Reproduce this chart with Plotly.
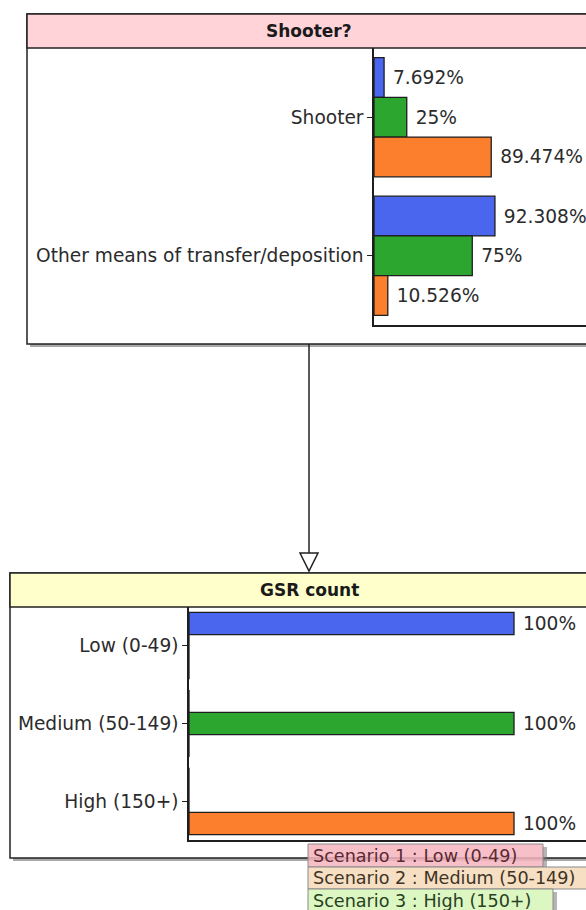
import plotly.graph_objects as go

W, H = 586, 910

# ---- data -------------------------------------------------------------
scenarios = ["Scenario 1 : Low (0-49)", "Scenario 2 : Medium (50-149)", "Scenario 3 : High (150+)"]
series_colors = ["#4a66ee", "#2ca62e", "#fb7f2c"]

shooter_title = "Shooter?"
shooter_states = ["Shooter", "Other means of transfer/deposition"]
shooter_s1 = [7.692, 92.308]
shooter_s2 = [25, 75]
shooter_s3 = [89.474, 10.526]

gsr_title = "GSR count"
gsr_states = ["Low (0-49)", "Medium (50-149)", "High (150+)"]
gsr_s1 = [100, 0, 0]
gsr_s2 = [0, 100, 0]
gsr_s3 = [0, 0, 100]

FONT = "DejaVu Sans"
TXT = "#2b2b2b"
FS = 18.6


def px(x):
    return x / W


def py(y):
    return 1 - y / H


def label(v):
    # non-breaking space keeps a small gap between bar end and value
    return f"\u00a0{v:g}%" if v > 0 else ""


fig = go.Figure()

for name, vals, col in zip(scenarios, [shooter_s1, shooter_s2, shooter_s3], series_colors):
    fig.add_trace(go.Bar(
        y=shooter_states, x=vals, orientation="h", name=name,
        marker=dict(color=col, line=dict(color="#1e1e1e", width=1.3)),
        text=[label(v) for v in vals], textposition="outside", constraintext="none",
        textfont=dict(family=FONT, size=FS, color=TXT), cliponaxis=False,
        xaxis="x", yaxis="y", hoverinfo="skip",
    ))

for name, vals, col in zip(scenarios, [gsr_s1, gsr_s2, gsr_s3], series_colors):
    fig.add_trace(go.Bar(
        y=gsr_states, x=vals, orientation="h", name=name,
        marker=dict(color=col, line=dict(color="#1e1e1e", width=1.3)),
        text=[label(v) for v in vals], textposition="outside", constraintext="none",
        textfont=dict(family=FONT, size=FS, color=TXT), cliponaxis=False,
        xaxis="x2", yaxis="y2", hoverinfo="skip",
    ))

shapes = []
annotations = []


def node_box(x0, y0, y1, title_bottom, fill):
    # drop shadow, white body, coloured title strip
    shapes.append(dict(type="rect", xref="paper", yref="paper", layer="below",
                       x0=px(x0 + 3), x1=px(W + 40), y0=py(y1 + 3), y1=py(y0 + 3),
                       fillcolor="#a8a8a8", line=dict(width=0)))
    shapes.append(dict(type="rect", xref="paper", yref="paper", layer="below",
                       x0=px(x0), x1=px(W + 30), y0=py(y1), y1=py(y0),
                       fillcolor="white", line=dict(color="#222", width=1.5)))
    shapes.append(dict(type="rect", xref="paper", yref="paper", layer="below",
                       x0=px(x0), x1=px(W + 30), y0=py(title_bottom), y1=py(y0),
                       fillcolor=fill, line=dict(color="#222", width=1.5)))


node_box(27, 14, 344, 48, "#ffd3d8")
node_box(10, 573, 858, 607, "#ffffcc")

annotations.append(dict(xref="paper", yref="paper", x=px(309), y=py(31), text=f"<b>{shooter_title}</b>",
                        showarrow=False, font=dict(family=FONT, size=17, color="#1a1a1a"),
                        xanchor="center", yanchor="middle"))
annotations.append(dict(xref="paper", yref="paper", x=px(309), y=py(590), text=f"<b>{gsr_title}</b>",
                        showarrow=False, font=dict(family=FONT, size=17, color="#1a1a1a"),
                        xanchor="center", yanchor="middle"))

# link between the two nodes with a hollow arrow head
shapes.append(dict(type="line", xref="paper", yref="paper", x0=px(309), x1=px(309),
                   y0=py(344), y1=py(553), line=dict(color="#222", width=1.5)))
shapes.append(dict(type="path", xref="paper", yref="paper",
                   path=f"M {px(300)},{py(553)} L {px(318)},{py(553)} L {px(309)},{py(571)} Z",
                   fillcolor="white", line=dict(color="#222", width=1.5)))

# scenario tags
tag_fills = ["rgba(246,180,190,0.85)", "#f6dfc2", "#ddf7c2"]
tag_text = ["#5a2a32", "#3e3426", "#27401f"]
tag_rows = [(844, 867, 543), (867, 889, 600), (889, 912, 553)]
for name, fill, tcol, (ya, yb, xr) in zip(scenarios, tag_fills, tag_text, tag_rows):
    shapes.append(dict(type="rect", xref="paper", yref="paper", layer="above",
                       x0=px(xr), x1=px(xr + 4), y0=py(yb), y1=py(ya + 3),
                       fillcolor="rgba(120,120,120,0.55)", line=dict(width=0)))
    shapes.append(dict(type="rect", xref="paper", yref="paper", layer="above",
                       x0=px(308), x1=px(xr), y0=py(yb), y1=py(ya),
                       fillcolor=fill, line=dict(color="#8a8a8a", width=1)))
    annotations.append(dict(xref="paper", yref="paper", x=px(311), y=py((ya + yb) / 2),
                            text=name, showarrow=False, xanchor="left", yanchor="middle",
                            font=dict(family=FONT, size=17.6, color=tcol)))

axis_common = dict(showgrid=False, zeroline=False, showline=True, linecolor="#1e1e1e", linewidth=1.5)

fig.update_layout(
    width=W, height=H, margin=dict(l=0, r=0, t=0, b=0),
    paper_bgcolor="white", plot_bgcolor="rgba(0,0,0,0)",
    barmode="group", bargap=0.14, showlegend=False,
    font=dict(family=FONT, size=FS, color=TXT),
    xaxis=dict(domain=[px(374), 1], range=[0, 161.8], showticklabels=False, ticks="",
               anchor="y", **axis_common),
    yaxis=dict(domain=[py(325), py(48)], range=[1.5, -0.5], type="category", anchor="x",
               ticks="outside", ticklen=5, tickcolor="#1e1e1e", tickwidth=1.2,
               tickfont=dict(family=FONT, size=FS, color=TXT), **axis_common),
    xaxis2=dict(domain=[px(189), 1], range=[0, 122.15], showticklabels=False, ticks="",
                anchor="y2", **axis_common),
    yaxis2=dict(domain=[py(840), py(607)], range=[2.5, -0.5], type="category", anchor="x2",
                ticks="outside", ticklen=5, tickcolor="#1e1e1e", tickwidth=1.2,
                tickfont=dict(family=FONT, size=FS, color=TXT), **axis_common),
    shapes=shapes, annotations=annotations,
)

fig.write_html("out.html")
